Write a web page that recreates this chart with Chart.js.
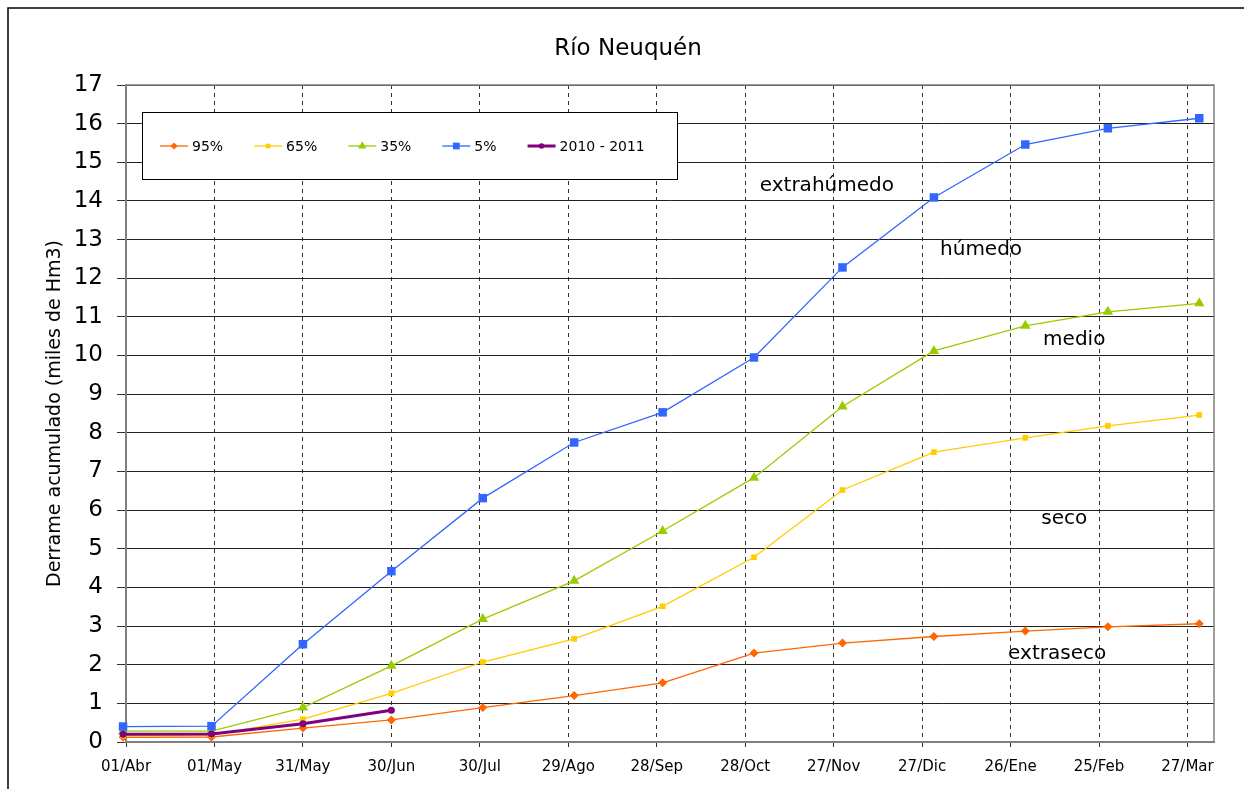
<!DOCTYPE html>
<html>
<head>
<meta charset="utf-8">
<script src="https://cdn.jsdelivr.net/npm/chart.js"></script>
<style>
  body { margin: 0; background: #fff; }
</style>
</head>
<body>
<canvas id="chart" width="1244" height="789"></canvas>
<script>
// ejes
const tickDays = [0, 30, 60, 90, 120, 150, 180, 210, 240, 270, 300, 330, 360];
const tickLabels = ["01/Abr", "01/May", "31/May", "30/Jun", "30/Jul", "29/Ago", "28/Sep",
    "28/Oct", "27/Nov", "27/Dic", "26/Ene", "25/Feb", "27/Mar"];

// días (desde 01/Abr) de cada fin de mes
const pointDays = [-1, 29, 60, 90, 121, 152, 182, 213, 243, 274, 305, 333, 364];

// derrame acumulado, miles de Hm3
const p95 = [0.12, 0.13, 0.36, 0.57, 0.89, 1.20, 1.53, 2.30, 2.56, 2.73, 2.87, 2.98, 3.06];
const p65 = [0.16, 0.18, 0.59, 1.26, 2.07, 2.67, 3.51, 4.78, 6.52, 7.50, 7.87, 8.18, 8.46];
const p35 = [0.28, 0.28, 0.89, 1.97, 3.18, 4.17, 5.46, 6.84, 8.68, 10.12, 10.77, 11.13, 11.35];
const p5 = [0.40, 0.41, 2.53, 4.42, 6.31, 7.75, 8.53, 9.95, 12.28, 14.09, 15.46, 15.88, 16.14];
const y2010 = [0.20, 0.21, 0.47, 0.82];

// etiquetas de zonas
const zoneLabels = ["extrahúmedo", "húmedo", "medio", "seco", "extraseco"];
const zoneDays = [237.7, 290, 321.6, 318.2, 315.8];
const zoneValues = [14.39, 12.73, 10.40, 5.77, 2.27];

const FONT = "'DejaVu Sans', Verdana, sans-serif";

function serie(label, values, color, style, radius, width, order) {
    return {
        label: label,
        data: values.map((v, i) => ({x: pointDays[i], y: v})),
        borderColor: color,
        backgroundColor: color,
        pointBackgroundColor: color,
        pointBorderColor: color,
        pointStyle: style,
        pointRadius: radius,
        pointBorderWidth: 0,
        borderWidth: width,
        tension: 0,
        clip: false,
        order: order
    };
}

const data = {
    datasets: [
        serie("95%", p95, "#FF6600", "rectRot", 4.5, 1.3, 4),
        serie("65%", p65, "#FFCC00", "rect", 4, 1.3, 3),
        serie("35%", p35, "#99CC00", "triangle", 6, 1.3, 2),
        serie("5%", p5, "#3366FF", "rect", 6, 1.3, 1),
        serie("2010 - 2011", y2010, "#800080", "circle", 3.5, 3, 0),
    ]
};

const extras = {
    id: 'extras',
    beforeDraw(chart) {
        const c = chart.ctx;
        c.save();
        c.strokeStyle = '#000';
        c.lineWidth = 1.5;
        c.beginPath();
        c.moveTo(8, 900); c.lineTo(8, 8); c.lineTo(1300, 8);
        c.stroke();
        c.fillStyle = '#000';
        c.font = '23px ' + FONT;
        c.textAlign = 'center';
        c.textBaseline = 'alphabetic';
        c.fillText('Río Neuquén', 628, 55);
        c.restore();
    },
    beforeDatasetsDraw(chart) {
        const c = chart.ctx;
        const a = chart.chartArea;
        c.save();
        c.strokeStyle = '#808080';
        c.lineWidth = 1.5;
        c.beginPath();
        c.moveTo(a.left, a.top); c.lineTo(a.right, a.top); c.lineTo(a.right, a.bottom);
        c.stroke();
        c.restore();
    },
    afterDatasetsDraw(chart) {
        const c = chart.ctx;
        const xs = chart.scales.x, ys = chart.scales.y;
        c.save();
        c.fillStyle = '#000';
        c.font = '20px ' + FONT;
        c.textAlign = 'center';
        c.textBaseline = 'middle';
        zoneLabels.forEach((t, i) => {
            c.fillText(t, xs.getPixelForValue(zoneDays[i]), ys.getPixelForValue(zoneValues[i]));
        });

        // leyenda
        c.fillStyle = '#fff';
        c.fillRect(142.5, 112.5, 535, 67);
        c.strokeStyle = '#000';
        c.lineWidth = 1;
        c.strokeRect(142.5, 112.5, 535, 67);
        c.font = '14px ' + FONT;
        c.textAlign = 'left';
        let x = 160;
        const y = 146;
        chart.data.datasets.forEach(ds => {
            c.strokeStyle = ds.borderColor;
            c.lineWidth = ds.borderWidth;
            c.beginPath();
            c.moveTo(x, y); c.lineTo(x + 28, y);
            c.stroke();
            c.fillStyle = ds.borderColor;
            Chart.helpers.drawPoint(c, {pointStyle: ds.pointStyle, radius: ds.pointRadius * 0.8, borderWidth: 0}, x + 14, y);
            c.fillStyle = '#000';
            c.fillText(ds.label, x + 32, y + 1);
            x += 28 + 4 + c.measureText(ds.label).width + 31;
        });
        c.restore();
    }
};

const options = {
    responsive: false,
    animation: false,
    layout: { padding: { left: 0, top: 85, right: 30, bottom: 0 } },
    plugins: {
        legend: { display: false },
        tooltip: { enabled: false }
    },
    scales: {
        x: {
            type: 'linear',
            min: 0,
            max: 369,
            afterBuildTicks: s => { s.ticks = tickDays.map(v => ({value: v})); },
            afterFit: s => { s.height = 47; },
            ticks: {
                autoSkip: false,
                maxRotation: 0,
                padding: 11,
                color: '#000',
                font: { family: FONT, size: 15 },
                callback: (v, i) => tickLabels[i]
            },
            grid: { color: '#333', lineWidth: 1, tickLength: 5, tickColor: '#333' },
            border: { color: '#808080', width: 2, dash: [4, 4] }
        },
        y: {
            min: 0,
            max: 17,
            afterFit: s => { s.width = 126; },
            ticks: {
                stepSize: 1,
                padding: 14,
                color: '#000',
                font: { family: FONT, size: 23 }
            },
            grid: { color: '#222', lineWidth: 1, tickLength: 9, tickColor: '#333' },
            border: { color: '#808080', width: 2 },
            title: {
                display: true,
                text: 'Derrame acumulado (miles de Hm3)',
                color: '#000',
                font: { family: FONT, size: 19 },
                padding: { top: 44, bottom: 0 }
            }
        }
    }
};

new Chart(document.getElementById('chart').getContext('2d'), {
    type: 'line',
    data: data,
    options: options,
    plugins: [extras]
});
</script>
</body>
</html>
